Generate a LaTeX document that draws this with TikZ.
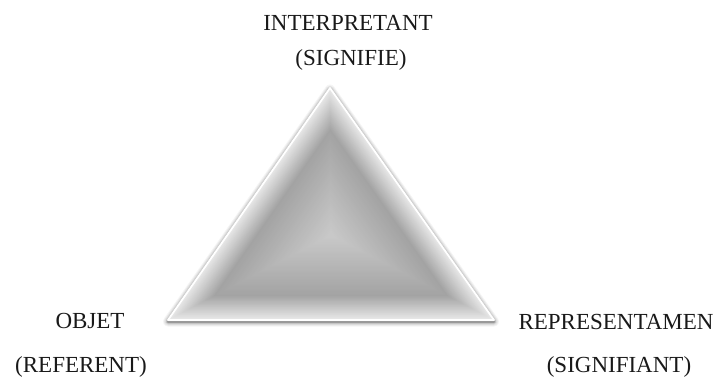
\documentclass[tikz,border=0pt]{standalone}
\usepackage{fontspec}
\setmainfont{Liberation Serif}
\usetikzlibrary{calc}
\begin{document}
\begin{tikzpicture}[x=1pt,y=-1pt,
  lbl/.style={font=\fontsize{23}{27}\selectfont, text=black!90, inner sep=0pt, anchor=base},
  edgeline/.style={line join=round, line cap=round}]
\useasboundingbox (0,0) rectangle (721,376);
\coordinate (A) at (330,88);
\coordinate (B) at (168,320);
\coordinate (C) at (494,320);
\coordinate (I) at (331,235);
% soft outer shadow
\foreach \w/\o in {10/0.04,8/0.06,6/0.08,4/0.12,2.5/0.18}{
  \draw[black, opacity=\o, line width=\w, edgeline]
    ($(A)+(0,1.5)$) -- ($(B)+(0,1.5)$) -- ($(C)+(0,1.5)$) -- cycle;
}
% beveled body
\foreach \i in {0,...,70}{
  \pgfmathsetmacro\s{1-\i/70*0.98}
  \pgfmathsetmacro\c{\s>0.72 ? 9+(1-\s)/0.28*27 : 36-(0.72-\s)/0.72*15}
  \fill[black!\c] ($(I)!\s!(A)$) -- ($(I)!\s!(B)$) -- ($(I)!\s!(C)$) -- cycle;
}
% white highlight edge
\draw[white, line width=1.8, edgeline] (A) -- (B) -- (C) -- cycle;
% labels
\node[lbl] (interp) at (348,30) {INTERPRETANT};
\node[lbl] (signifie) at (351,65) {(SIGNIFIE)};
\node[lbl] (objet) at (90,328) {OBJET};
\node[lbl] (referent) at (81,372) {(REFERENT)};
\node[lbl] (repr) at (616,329) {REPRESENTAMEN};
\node[lbl] (signifiant) at (619,372) {(SIGNIFIANT)};
\end{tikzpicture}
\end{document}
